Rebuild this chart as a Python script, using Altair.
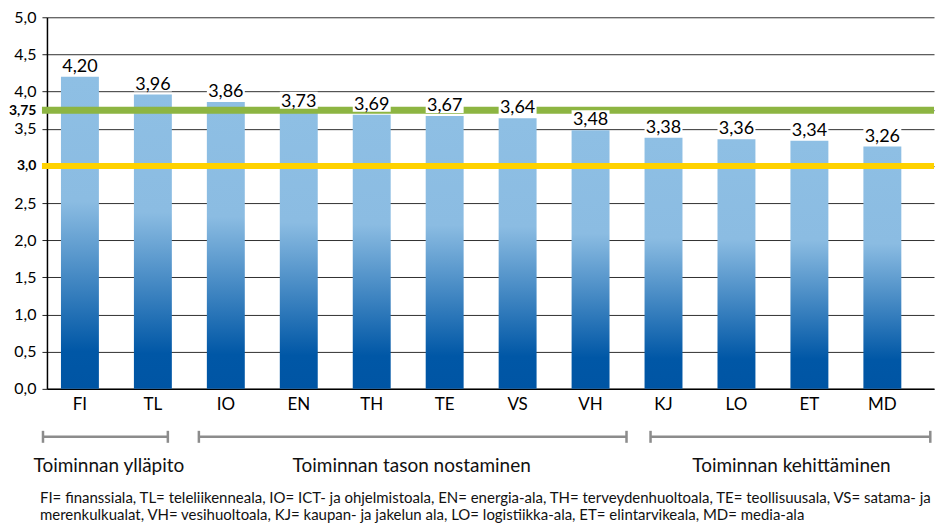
import altair as alt
import pandas as pd

# ---------------- data ----------------
codes = ["FI", "TL", "IO", "EN", "TH", "TE", "VS", "VH", "KJ", "LO", "ET", "MD"]
values = [4.20, 3.96, 3.86, 3.73, 3.69, 3.67, 3.64, 3.48, 3.38, 3.36, 3.34, 3.26]

ref_values = [3.75, 3.0]

y_ticks = [0, 0.5, 1, 1.5, 2, 2.5, 3, 3.5, 3.75, 4, 4.5, 5]

group_names = ["Toiminnan ylläpito", "Toiminnan tason nostaminen", "Toiminnan kehittäminen"]
group_start = ["FI", "IO", "KJ"]
group_end = ["TL", "VH", "MD"]
group_anchor = ["FI", "TH", "ET"]

footnote = [
    "FI= finanssiala, TL= teleliikenneala, IO= ICT- ja ohjelmistoala, EN= energia-ala, TH= terveydenhuoltoala, TE= teollisuusala, VS= satama- ja",
    "merenkulkualat, VH= vesihuoltoala, KJ= kaupan- ja jakelun ala, LO= logistiikka-ala, ET= elintarvikeala, MD= media-ala",
]

# ---------------- styles ----------------
FONT = "Lato"
W, H = 888, 372
ref_colors = ["#8DB542", "#FFD200"]
ref_widths = [7, 6]
bracket_color = "#8C8C8C"
bracket_start_off = [-18, -8, 6]
bracket_end_off = [-4, 17, 29]
label_off = [29, 40, -18]
bracket_y = 420
label_y = 449
foot_y = [481, 498]

df = pd.DataFrame({"code": codes, "value": values})
df_ref = pd.DataFrame({"v": ref_values})

xs = alt.Scale(domain=codes, paddingInner=0.48, paddingOuter=0.32, align=0.30)
ys = alt.Scale(domain=[0, 5], nice=False)

gradient = alt.Gradient(
    gradient="linear",
    x1=0, y1=0, x2=0, y2=1,
    stops=[
        alt.GradientStop(offset=0, color="#8EBFE4"),
        alt.GradientStop(offset=0.40, color="#8BBCE2"),
        alt.GradientStop(offset=0.88, color="#0057A6"),
        alt.GradientStop(offset=1, color="#0055A4"),
    ],
)

bold_test = "datum.value == 3 || datum.value == 3.75"

bars = alt.Chart(df).mark_bar(color=gradient).encode(
    x=alt.X("code:N", scale=xs, sort=codes, title=None,
            axis=alt.Axis(labelAngle=0, ticks=False, tickSize=0, labelPadding=8,
                          labelFontSize=17, labelFont=FONT, labelColor="#000",
                          domainColor="#000", domainWidth=1.5, grid=False)),
    y=alt.Y("value:Q", scale=ys, title=None,
            axis=alt.Axis(values=y_ticks, tickCount=40, labelOverlap=False,
                          labelExpr="datum.value == 3.75 ? '3,75' : replace(format(datum.value, '.1f'), '.', ',')",
                          labelFontWeight={"condition": {"test": bold_test, "value": "bold"}, "value": "normal"},
                          labelFontSize={"condition": {"test": bold_test, "value": 14}, "value": 16},
                          labelFont=FONT, labelColor="#000",
                          labelPadding=6, tickSize=5, tickColor="#222",
                          domainColor="#000", domainWidth=1.5,
                          grid=True, gridColor="#303030", gridWidth=1)),
)

refs = []
for i, v in enumerate(ref_values):
    refs.append(
        alt.Chart(df_ref.iloc[[i]]).mark_rule(color=ref_colors[i], strokeWidth=ref_widths[i]).encode(
            y=alt.Y("v:Q", scale=ys, title=None),
            x=alt.value(-5),
            x2=alt.value(W),
        )
    )

boxes = alt.Chart(df).mark_rect(color="white", yOffset=-3, y2Offset=-20).encode(
    x=alt.X("code:N", scale=xs, title=None),
    y=alt.Y("value:Q", scale=ys, title=None),
    y2=alt.Y2("value"),
)

labels = alt.Chart(df).transform_calculate(
    lab="replace(format(datum.value, '.2f'), '.', ',')"
).mark_text(font=FONT, fontSize=18, color="#000", baseline="alphabetic", dy=-5).encode(
    x=alt.X("code:N", scale=xs, title=None),
    y=alt.Y("value:Q", scale=ys, title=None),
    text="lab:N",
)

annots = []
for i, name in enumerate(group_names):
    gd = pd.DataFrame({"start": [group_start[i]], "end": [group_end[i]],
                       "anchor": [group_anchor[i]], "name": [name]})
    annots.append(
        alt.Chart(gd).mark_rule(color=bracket_color, strokeWidth=2.5,
                                xOffset=bracket_start_off[i], x2Offset=bracket_end_off[i]).encode(
            x=alt.X("start:N", scale=xs, bandPosition=0, title=None),
            x2=alt.X2("end:N", bandPosition=1),
            y=alt.value(bracket_y),
        )
    )
    annots.append(
        alt.Chart(gd).mark_rule(color=bracket_color, strokeWidth=2.5,
                                xOffset=bracket_start_off[i]).encode(
            x=alt.X("start:N", scale=xs, bandPosition=0, title=None),
            y=alt.value(bracket_y - 6),
            y2=alt.value(bracket_y + 6),
        )
    )
    annots.append(
        alt.Chart(gd).mark_rule(color=bracket_color, strokeWidth=2.5,
                                xOffset=bracket_end_off[i]).encode(
            x=alt.X("end:N", scale=xs, bandPosition=1, title=None),
            y=alt.value(bracket_y - 6),
            y2=alt.value(bracket_y + 6),
        )
    )
    annots.append(
        alt.Chart(gd).mark_text(font=FONT, fontSize=19, color="#111", baseline="middle",
                                align="center", xOffset=label_off[i]).encode(
            x=alt.X("anchor:N", scale=xs, title=None),
            y=alt.value(label_y),
            text="name:N",
        )
    )

for i, line in enumerate(footnote):
    fd = pd.DataFrame({"t": [line]})
    annots.append(
        alt.Chart(fd).mark_text(font=FONT, fontSize=15, color="#111", baseline="middle",
                                align="left").encode(
            x=alt.value(-7),
            y=alt.value(foot_y[i]),
            text="t:N",
        )
    )

chart = alt.layer(bars, *refs, boxes, labels, *annots).properties(
    width=W, height=H,
    padding={"left": 0, "top": 1, "right": 0, "bottom": 0},
).configure_view(stroke=None).configure_axis(titleFont=FONT)

chart.save("out.html", embed_options={"renderer": "svg", "actions": False})
